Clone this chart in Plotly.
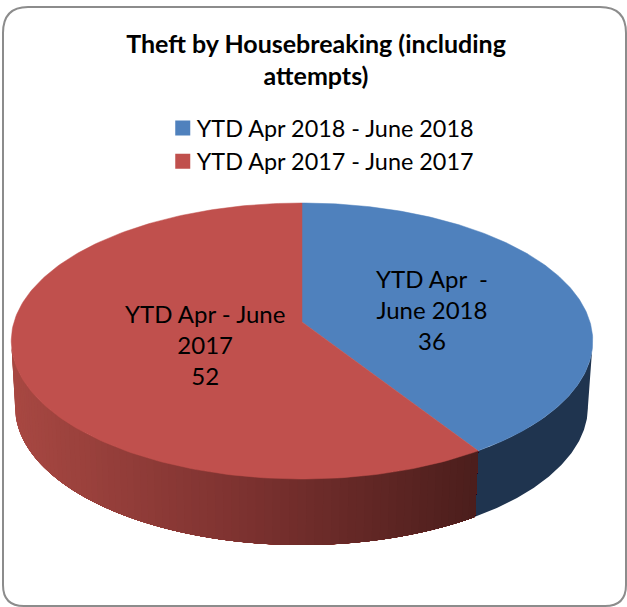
import numpy as np
import plotly.graph_objects as go

categories = ["YTD Apr 2018 - June 2018", "YTD Apr 2017 - June 2017"]
values = [36, 52]
slice_labels = ["YTD Apr  -<br>June 2018<br>36", "YTD Apr - June<br>2017<br>52"]
label_pos = [(432, 309), (205, 344)]
title = "<b>Theft by Housebreaking (including<br>attempts)</b>"
top_colors = ["#4f81bd", "#c0504d"]

W, H = 627, 607
CX, CY, K, A, C = 302.0, 322.0, 288.0, 135.4, 0.1377
DEPTH, WALL_SX = 66.0, 0.985
FONT = "Lato"


def project(theta, wall=False):
    u, v = np.sin(theta), np.cos(theta)
    w = 1 + C * v
    x, y = K * u / w, -A * v / w
    if wall:
        return CX - 0.5 + WALL_SX * x, CY + DEPTH + y
    return CX + x, CY + y


def lerp_color(stops, t):
    t = min(max(t, 0), 1)
    xs = [s[0] for s in stops]
    r = np.interp(t, xs, [s[1][0] for s in stops])
    g = np.interp(t, xs, [s[1][1] for s in stops])
    b = np.interp(t, xs, [s[1][2] for s in stops])
    return f"rgb({r:.0f},{g:.0f},{b:.0f})"


RED_STOPS = [(0, (168, 72, 66)), (0.5, (125, 50, 48)), (1, (76, 30, 28))]
BLUE_WALL = "#1f344f"

total = sum(values)
breaks = np.cumsum([0] + values) / total * 2 * np.pi

# the wall runs between the two points where the rim is widest on screen
START = np.arccos(-C)
END = 2 * np.pi - START

fig = go.Figure()


def wall_trace(a, b, col):
    ts = np.linspace(a, b, 120)
    xt, yt = project(ts)
    xb, yb = project(ts, True)
    return go.Scatter(x=np.r_[xt, xb[::-1]], y=np.r_[yt, yb[::-1]], fill="toself", mode="lines",
                      line=dict(color=col, width=0), fillcolor=col,
                      showlegend=False, hoverinfo="skip")


# side wall: blue part
fig.add_trace(wall_trace(START, breaks[1], BLUE_WALL))

# side wall: red part, shaded by painting ever shorter sections over each other
edges = np.linspace(breaks[1], END, 80)
x_lo, _ = project(END)
x_hi, _ = project(breaks[1])
for a, b in zip(edges[:-1][::-1], edges[1:][::-1]):
    x_a, _ = project(a)
    fig.add_trace(wall_trace(breaks[1], b, lerp_color(RED_STOPS, (x_a - x_lo) / (x_hi - x_lo))))

# top face
for i, col in enumerate(top_colors):
    ts = np.linspace(breaks[i], breaks[i + 1], 200)
    xt, yt = project(ts)
    fig.add_trace(go.Scatter(x=np.r_[CX, xt, CX], y=np.r_[CY, yt, CY], fill="toself", mode="lines",
                             line=dict(color=col, width=0.5), fillcolor=col,
                             showlegend=False, hoverinfo="text", text=f"{categories[i]}: {values[i]}"))

# legend entries
for name, col in zip(categories, top_colors):
    fig.add_trace(go.Scatter(x=[None], y=[None], mode="markers", name=name,
                             marker=dict(symbol="square", size=15, color=col)))

annotations = [dict(x=p[0], y=p[1], text=t, showarrow=False, xanchor="center", yanchor="middle",
                    align="center", font=dict(family=FONT, size=24, color="#000000"))
               for t, p in zip(slice_labels, label_pos)]

fig.update_layout(
    width=W, height=H, margin=dict(l=0, r=0, t=0, b=0),
    paper_bgcolor="white", plot_bgcolor="white",
    xaxis=dict(range=[0, W], visible=False, fixedrange=True),
    yaxis=dict(range=[H, 0], visible=False, fixedrange=True),
    title=dict(text=title, x=0.504, xanchor="center", y=0.9127, yanchor="middle",
               font=dict(family=FONT, size=25, color="#000000")),
    legend=dict(x=0.25, xanchor="left", y=0.825, yanchor="top", font=dict(family=FONT, size=23.4, color="#000000"),
                bgcolor="rgba(0,0,0,0)", itemwidth=30, tracegroupgap=0),
    annotations=annotations,
    shapes=[dict(type="path", path="M 28 7 L 600 7 Q 626 7 626 33 L 626 585 Q 626 606 605 606 L 24 606 Q 3 606 3 585 L 3 33 Q 3 7 28 7 Z",
                 line=dict(color="#8c8c8c", width=2), layer="below")],
)
css = "body{margin:0;overflow:hidden}.legendsymbols{transform:translateX(6px)}"
fig.write_html("out.html", config=dict(displayModeBar=False),
               post_script=f"var s=document.createElement('style');s.textContent='{css}';document.head.appendChild(s);")
